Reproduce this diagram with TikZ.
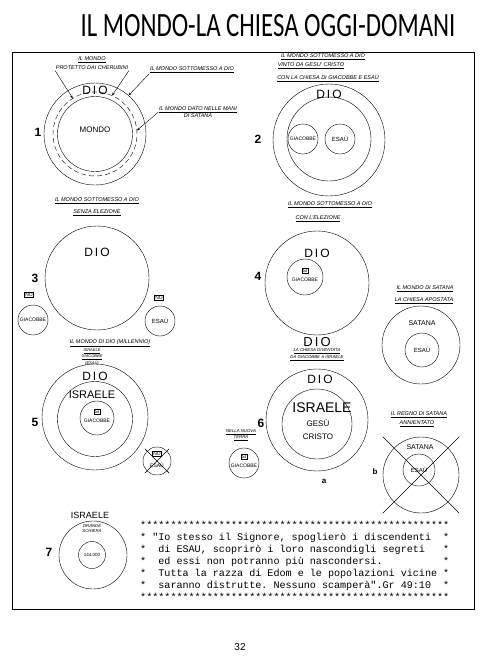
\documentclass[tikz,border=0pt]{standalone}
\usepackage{fontspec}
\setmainfont{Liberation Sans}
\setmonofont{Liberation Mono}
\newfontfamily\titlefont{Carlito}
\usetikzlibrary{arrows.meta}

\begin{document}
\begin{tikzpicture}[x=1pt,y=-1pt,
ring/.style={circle,draw,inner sep=0pt,minimum size=#1},
lab/.style={font=\fontsize{5.5}{6.5}\selectfont\itshape,inner sep=0.5pt,align=center},
tiny lab/.style={font=\fontsize{4.3}{5}\selectfont\itshape,inner sep=0.3pt,align=center},
word/.style={font=\fontsize{#1}{#1}\selectfont,inner sep=0pt,align=center},
num/.style={font=\bfseries\fontsize{12}{12}\selectfont},
tag/.style={draw,inner sep=0.8pt,font=\fontsize{5}{5}\selectfont},
ptr/.style={-{Stealth[length=3pt,width=2.4pt]}}]
\useasboundingbox (0,0) rectangle (480,659);
\node[font=\titlefont\fontsize{34}{34}\selectfont,xscale=0.73,anchor=base,inner sep=0pt] (title) at (268,36) {IL MONDO-LA CHIESA OGGI-DOMANI};
\draw (12,52) rectangle (474,609);

% 1
\node[ring=102pt] (o1) at (95,134) {};
\node[ring=84pt,dash pattern=on 5pt off 3pt] (c1) at (95,134) {};
\node[ring=75pt] (i1) at (95,134) {};
\node[word=12] (dio1) at (95,90) {D\,I\,O};
\node[word=8] (mondo) at (95,130) {MONDO};
\node[num] (n1) at (38,132) {1};
\node[lab] (l1a) at (92,60) {\underline{IL MONDO}};
\node[lab] (l1b) at (92,68) {PROTETTO DAI CHERUBINI};
\node[lab] (l1c) at (192,70) {\underline{IL MONDO SOTTOMESSO A DIO}};
\node[lab] (l1d) at (198,112) {\underline{IL MONDO DATO NELLE MANI}\\DI SATANA};
\draw[ptr] (l1b.south west) -- (c1.122);
\draw[ptr] (l1b.south east) -- (c1.66);
\draw[ptr] (l1c.south west) -- (o1.49);
\draw[ptr] (l1d.west) -- (c1.5);

% 2
\node[lab] (l2a) at (323,57) {\underline{IL MONDO SOTTOMESSO A DIO}};
\node[lab] (l2b) at (311,66) {\underline{VINTO DA GESU' CRISTO}};
\node[lab] (l2c) at (328,78) {\underline{CON LA CHIESA DI GIACOBBE E ESAÙ}};
\node[ring=112pt] (o2) at (329,140) {};
\node[ring=84pt] (i2) at (329,139) {};
\node[word=12] (dio2) at (329,94) {D\,I\,O};
\node[ring=30pt,word=5] (g2) at (303,139) {GIACOBBE};
\node[ring=30pt,word=6] (e2) at (340,139) {ESAÙ};
\node[num] (n2) at (258,139) {2};

% 3
\node[lab] (l3a) at (97,201) {\underline{IL MONDO SOTTOMESSO A DIO}};
\node[lab] (l3b) at (97,213) {\underline{SENZA ELEZIONE}};
\node[ring=104pt] (o3) at (97,278) {};
\node[word=12] (dio3) at (97,252) {D\,I\,O};
\node[num] (n3) at (35,278) {3};
\node[tag] (no3a) at (29,295) {NO};
\node[ring=30pt,word=5] (g3) at (33,320) {GIACOBBE};
\node[tag] (no3b) at (159,298) {NO};
\node[ring=30pt,word=6] (e3) at (160,321) {ESAÙ};

% 4
\node[lab] (l4a) at (330,205) {\underline{IL MONDO SOTTOMESSO A DIO}};
\node[lab] (l4b) at (318,219) {\underline{CON L'ELEZIONE}};
\node[ring=104pt] (o4) at (317,283) {};
\node[word=12] (dio4) at (317,253) {D\,I\,O};
\node[num] (n4) at (258,276) {4};
\node[ring=36pt] (g4) at (305,277) {};
\node[tag] (si4) at (305,271) {SI};
\node[word=5] (gn4) at (305,280) {GIACOBBE};

% satana
\node[lab] (lsa) at (425,289) {\underline{IL MONDO DI SATANA}};
\node[lab] (lsb) at (424,301) {\underline{LA CHIESA APOSTATA}};
\node[ring=78pt] (os) at (421,345) {};
\node[ring=34pt,word=6] (es) at (422,350) {ESAÙ};
\node[word=7] (sat) at (422,323) {SATANA};

% dio / chiesa
\node[word=13] (dio6a) at (317,342) {D\,I\,O};
\node[tiny lab] (l6a) at (317,351) {\underline{LA CHIESA DIVENTATA}};
\node[tiny lab] (l6b) at (317,358) {\underline{DA GIACOBBE A ISRAELE}};

% 5
\node[lab] (l5a) at (110,343) {\underline{IL MONDO DI DIO (MILLENNIO)}};
\node[tiny lab,font=\fontsize{4}{4.6}\selectfont\itshape] (l5b) at (92,357) {\underline{ISRAELE}\\\underline{GIACOBBE}\\(ESAÙ)};
\node[ring=106pt] (o5) at (95,417) {};
\node[ring=75pt] (m5) at (95,419) {};
\node[ring=34pt] (g5) at (97,418) {};
\node[word=12] (dio5) at (95,376) {D\,I\,O};
\node[word=11] (isr5) at (92,395) {ISRAELE};
\node[tag] (si5) at (97,412) {SI};
\node[word=5] (gn5) at (97,421) {GIACOBBE};
\node[num] (n5) at (35,422) {5};
\node[ring=28pt] (x5) at (157,461) {};
\node[tag] (no5) at (157,454) {NO};
\node[word=5] (es5) at (157,465) {ESAÙ};
\draw[shorten <=-3pt,shorten >=-3pt] (x5.north west) -- (x5.south east);
\draw[shorten <=-3pt,shorten >=-3pt] (x5.north east) -- (x5.south west);

% 6
\node[ring=102pt] (o6) at (317,420) {};
\node[ring=70pt] (i6) at (317,424) {};
\node[word=12] (dio6) at (320,379) {D\,I\,O};
\node[word=14] (isr6) at (322,408) {ISRAELE};
\node[word=8] (ges6) at (318,430) {GESÙ\\[5pt]CRISTO};
\node[num] (n6) at (261,423) {6};
\node[font=\bfseries\fontsize{8}{8}\selectfont] (a6) at (324,481) {a};
\node[tiny lab] (l6c) at (241,435) {\underline{NELLA NUOVA}\\\underline{TERRA}};
\node[ring=30pt] (g6) at (244,463) {};
\node[tag] (si6) at (244,457) {SI};
\node[word=5] (gn6) at (244,466) {GIACOBBE};

% b
\node[lab] (lba) at (419,415) {\underline{IL REGNO DI SATANA}};
\node[lab] (lbb) at (417,424) {\underline{ANNIENTATO}};
\node[ring=76pt] (ob) at (421,475) {};
\node[ring=32pt,word=6] (ib) at (419,470) {ESAÙ};
\node[word=7] (satb) at (420,447) {SATANA};
\node[font=\bfseries\fontsize{8}{8}\selectfont] (nb) at (375,472) {b};
\draw[shorten <=-16pt,shorten >=-16pt] (ob.north west) -- (ob.south east);
\draw[shorten <=-16pt,shorten >=-16pt] (ob.north east) -- (ob.south west);

% 7
\node[word=9] (isr7) at (90,515) {ISRAELE};
\node[ring=68pt] (o7) at (93,555) {};
\node[ring=27pt,word=4.5] (i7) at (92,555) {144.000};
\node[tiny lab] (l7) at (92,529) {GRANDE\\SCHIERA};
\node[num] (n7) at (49,552) {7};

% verse
\node[anchor=north west,inner sep=0pt,align=left,
  font=\ttfamily\fontsize{10.1}{12}\selectfont] (verse) at (140,521) {%
***************************************************\\
* "Io stesso il Signore, spoglierò i discendenti~~*\\
*~~di ESAU, scoprirò i loro nascondigli segreti~~~*\\
*~~ed essi non potranno più nascondersi.~~~~~~~~~~*\\
*~~Tutta la razza di Edom e le popolazioni vicine~*\\
*~~saranno distrutte. Nessuno scamperà".Gr 49:10~~*\\
***************************************************};
\node[word=10] (page) at (240,647) {32};
\end{tikzpicture}
\end{document}
